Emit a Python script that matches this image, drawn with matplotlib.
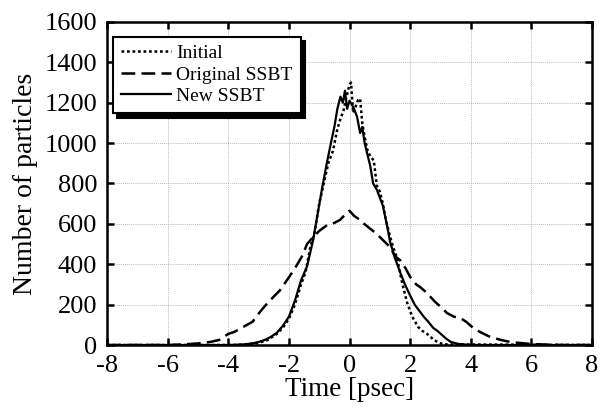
import matplotlib
matplotlib.use("Agg")
import matplotlib.pyplot as plt

plt.rcParams['font.family'] = ['Liberation Serif', 'DejaVu Serif']
plt.rcParams['mathtext.fontset'] = 'stix'

# ---- data ----
init_t = [-8, -3.8, -3.4, -3.0, -2.7, -2.4, -2.2, -2.0, -1.8, -1.6, -1.45, -1.3, -1.15, -1.0,
          -0.85, -0.7, -0.55, -0.4, -0.3, -0.2, -0.1, 0.0, 0.05, 0.12, 0.2, 0.28, 0.35, 0.42,
          0.5, 0.6, 0.7, 0.8, 0.9, 1.0, 1.1, 1.2, 1.34, 1.45, 1.57, 1.74, 1.9, 2.07, 2.26,
          2.4, 2.56, 2.75, 2.9, 3.1, 8]
init_n = [0, 0, 3, 10, 25, 55, 85, 130, 200, 300, 360, 480, 560, 700,
          800, 900, 960, 1070, 1120, 1160, 1230, 1290, 1300, 1150, 1180, 1213, 1220, 1100,
          1030, 960, 930, 915, 790, 760, 700, 620, 535, 480, 430, 305, 210, 140, 90,
          70, 55, 30, 15, 3, 0]

orig_t = [-8, -6, -5.5, -5.0, -4.6, -4.3, -4.0, -3.8, -3.5, -3.2, -2.95, -2.75, -2.5, -2.3,
          -2.0, -1.8, -1.58, -1.4, -1.2, -1.0, -0.74, -0.5, -0.31, -0.15, 0.0, 0.15, 0.35,
          0.45, 0.65, 0.9, 1.1, 1.34, 1.5, 1.67, 1.85, 2.0, 2.2, 2.33, 2.5, 2.66, 2.83, 3.0,
          3.22, 3.45, 3.65, 3.85, 4.08, 4.3, 4.64, 5.0, 5.3, 5.63, 6.0, 6.5, 7.0, 8]
orig_n = [0, 0, 3, 8, 15, 25, 55, 65, 90, 115, 165, 200, 240, 270,
          335, 380, 436, 500, 535, 565, 594, 605, 620, 645, 665, 640, 619,
          604, 580, 550, 520, 485, 440, 420, 380, 337, 300, 287, 265, 240, 213, 190,
          158, 140, 134, 115, 85, 65, 40, 25, 15, 10, 5, 2, 0, 0]

new_t = [-8, -4, -3.5, -3.2, -3.0, -2.8, -2.6, -2.4, -2.2, -2.0, -1.8, -1.6, -1.4, -1.2,
         -1.05, -0.9, -0.75, -0.6, -0.5, -0.4, -0.3, -0.22, -0.15, -0.08, 0.0, 0.08, 0.15,
         0.25, 0.35, 0.42, 0.5, 0.58, 0.68, 0.78, 0.9, 1.0, 1.1, 1.24, 1.34, 1.5, 1.67,
         1.83, 2.0, 2.15, 2.3, 2.45, 2.6, 2.76, 2.9, 3.05, 3.2, 3.35, 3.6, 4.0, 8]
new_n = [0, 0, 3, 8, 15, 25, 40, 60, 95, 140, 220, 320, 390, 520,
         650, 780, 900, 1010, 1080, 1170, 1230, 1200, 1260, 1170, 1210, 1190, 1170,
         1130, 1050, 1080, 1000, 950, 890, 800, 770, 730, 690, 590, 510, 430, 360,
         300, 245, 200, 170, 140, 115, 85, 70, 50, 30, 15, 5, 0, 0]

labels = ["Initial", "Original SSBT", "New SSBT"]
x_ticks = [-8, -6, -4, -2, 0, 2, 4, 6, 8]
y_ticks = [0, 200, 400, 600, 800, 1000, 1200, 1400, 1600]

# ---- figure ----
fig = plt.figure(figsize=(6.06, 4.07), dpi=100)
ax = fig.add_axes([0.1766, 0.1523, 0.8003, 0.7937])

ax.plot(init_t, init_n, color='black', lw=1.8, linestyle=(0, (1.1, 1.1)), label=labels[0])
ax.plot(orig_t, orig_n, color='black', lw=1.8, linestyle=(0, (5.5, 2.5)), label=labels[1])
ax.plot(new_t, new_n, color='black', lw=1.6, linestyle='-', label=labels[2])

ax.set_xlim(-8, 8)
ax.set_ylim(0, 1600)
ax.set_xticks(x_ticks)
ax.set_yticks(y_ticks)
ax.set_xticklabels([str(v) for v in x_ticks])
ax.grid(True, color='#bdbdbd', linestyle=(0, (1, 1)), linewidth=0.7)
ax.set_axisbelow(True)

for s in ax.spines.values():
    s.set_linewidth(1.8)
ax.tick_params(direction='in', length=5, width=1.8, top=True, right=True,
               labelsize=19, pad=7)

ax.set_xlabel("Time [psec]", fontsize=19.5, labelpad=0)
ax.set_ylabel("Number of particles", fontsize=20, labelpad=5)

leg = ax.legend(loc='upper left', bbox_to_anchor=(0.012, 0.955), borderaxespad=0,
                fontsize=14, frameon=True, fancybox=False,
                shadow={'color': 'black', 'alpha': 1.0, 'ox': 3, 'oy': -3},
                handlelength=2.55, handletextpad=0.3, labelspacing=0.2,
                borderpad=0.42)
leg.get_frame().set_edgecolor('black')
leg.get_frame().set_linewidth(1.5)
leg.get_frame().set_alpha(1)

fig.savefig("out.png", dpi=100)
